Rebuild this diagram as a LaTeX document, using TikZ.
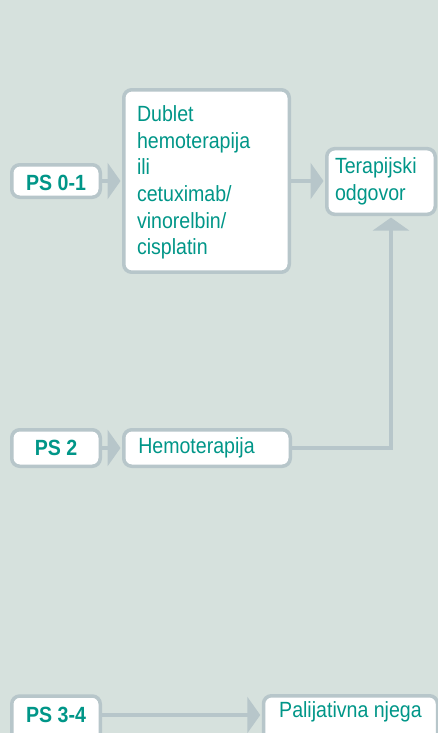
\documentclass[tikz,border=0pt]{standalone}
\usepackage{fontspec}
\setmainfont{Liberation Sans}[FakeStretch=0.89]
\usetikzlibrary{arrows.meta}
\definecolor{bgcol}{RGB}{214,225,221}
\definecolor{edgecol}{RGB}{183,198,202}
\definecolor{txtcol}{RGB}{0,150,136}
\begin{document}
\begin{tikzpicture}[x=1pt,y=-1pt,
  box/.style={draw=edgecol, fill=white, line width=3.5pt, rounded corners=8pt,
    text=txtcol, font=\fontsize{22pt}{26.6pt}\selectfont, inner ysep=0pt},
  psbox/.style={box, font=\fontsize{22pt}{26.6pt}\selectfont\bfseries,
    minimum width=88.5pt, inner xsep=0pt, align=center},
  arr/.style={draw=edgecol, line width=4.5pt,
    -{Triangle[length=13pt,width=36pt]}, shorten >=1.5pt}
]
\useasboundingbox[fill=bgcol] (0,0) rectangle (438,733);

\node[psbox, text height=25.25pt, text depth=7.25pt] (ps01) at (56,181) {PS 0-1};
\node[box, text width=139pt, align=left, inner xsep=13.25pt, inner ysep=12.95pt]
  (big) at (206.5,181)
  {\rule{0pt}{19pt}Dublet\\ hemoterapija\\ ili\\ cetuximab/\\ vinorelbin/\\ cisplatin};
\node[box, text width=92pt, align=left, inner xsep=8.25pt, inner ysep=9pt]
  (ter) at (381,181.5) {Terapijski\\ odgovor\rule[-5.1pt]{0pt}{5.1pt}};

\node[psbox, text height=25.25pt, text depth=11.25pt] (ps2) at (56,448) {PS 2};
\node[box, text width=137.5pt, align=left, inner xsep=14.5pt,
  text height=23.25pt, text depth=13.25pt] (hemo) at (207,448) {Hemoterapija};

\node[psbox, text height=26pt, text depth=23pt] (ps34) at (56,720.5) {PS 3-4};
\node[box, minimum width=174pt, inner xsep=0pt, text height=21.25pt, text depth=28pt]
  (pal) at (350.5,720.375) {Palijativna njega};

\draw[arr] (ps01) -- (big);
\draw[arr] (big.east) -- (big.east -| ter.west);
\draw[arr] (ps2) -- (hemo);
\coordinate (corner) at (391,448);
\draw[arr] (hemo.east) -- (corner) -- (corner |- ter.south);
\coordinate (lvl) at (0,715);
\draw[arr] (ps34.east |- lvl) -- (pal.west |- lvl);
\end{tikzpicture}
\end{document}
